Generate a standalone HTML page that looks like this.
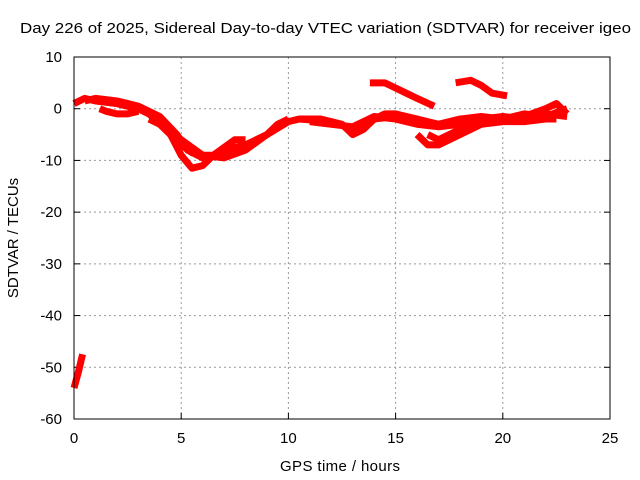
<!DOCTYPE html>
<html><head><meta charset="utf-8"><style>
body{margin:0;background:#fff}
svg{display:block;font-family:"Liberation Sans",sans-serif;font-size:15px}
</style></head><body>
<svg id="c" width="640" height="480">
<text x="20" y="33" textLength="611" lengthAdjust="spacingAndGlyphs">Day 226 of 2025, Sidereal Day-to-day VTEC variation (SDTVAR) for receiver igeo</text>
<text x="340" y="471" text-anchor="middle" textLength="120">GPS time / hours</text>
<text transform="translate(18,238) rotate(-90)" text-anchor="middle">SDTVAR / TECUs</text>
<g id="grid"></g><g id="ticks"></g><g id="data"></g>
<rect x="74" y="57" width="536" height="362" fill="none" stroke="#000"/>
</svg>
<script>
const xTicks=[0,5,10,15,20,25];
const yTicks=[10,0,-10,-20,-30,-40,-50,-60];
const sA=[[0,1],[0.5,2],[1,1.5],[2,1],[3,0],[4,-2],[4.5,-5],[5,-9],[5.5,-11.5],[6,-11],[6.5,-9],[7,-7.5],[7.5,-6],[8,-6]];
const sB=[[1,1.5],[2,1],[3,0],[3.5,-1],[4,-3],[4.5,-5],[5,-7],[5.5,-8.5],[6,-9],[6.5,-9],[7,-8],[8,-7],[9,-5],[9.5,-3],[10,-2]];
const sC=[[1.2,0],[1.5,-0.5],[2,-1],[2.5,-1],[3,-0.5]];
const sD=[[3.5,-2],[4,-3],[5,-6],[6,-9],[7,-9.5],[8,-8],[9,-5],[10,-2.5],[10.5,-2],[12,-2.5],[13,-4],[13.5,-3],[14,-2],[15,-1.5],[16,-2.5],[17,-3],[18,-2.5],[19,-2],[20,-1.5],[21,-2],[22,-1],[23,-1.5]];
const sE=[[10.5,-2],[11.5,-2],[12.5,-3],[13,-5],[13.5,-4],[14,-2],[14.5,-1],[15,-1],[16,-2],[17,-3],[18,-2],[19,-1.5],[20,-2],[21,-1.5],[22,0],[22.5,1],[23,-1]];
const sF=[[16,-5],[16.5,-7],[17,-7],[18,-5],[19,-3],[20,-2.5],[21,-2.5],[22,-2],[22.5,-2]];
const sG=[[16.5,-5],[17,-6],[18,-4],[19,-3]];
const sH=[[13.8,5],[14.5,5],[15,4],[15.5,3],[16,2],[16.8,0.5]];
const sI=[[17.8,5],[18.5,5.5],[19,4.5],[19.5,3],[20.2,2.5]];
const sJ=[[0,-54],[0.2,-51],[0.4,-47.5]];
const sK=[[0.5,1.5],[1,2],[2,1.5],[3,0.5],[4,-1.5],[4.8,-5],[5.3,-8],[6,-9.5],[7,-9],[7.5,-8]];
const sL=[[11,-2.5],[12,-3],[13,-3.5],[14,-1.5],[15,-2],[16,-3],[17,-3.5],[18,-3],[19,-2.5],[20,-2],[21,-1],[22,-1.5],[23,0]];
const series=[sA,sB,sC,sD,sE,sF,sG,sH,sI,sJ,sK,sL];
const X=v=>74+v*536/25, Y=v=>57+(10-v)*362/70;
const NS='http://www.w3.org/2000/svg';
const grid=document.getElementById('grid'),ticks=document.getElementById('ticks'),data=document.getElementById('data');
function mk(t,a,p){const e=document.createElementNS(NS,t);for(const k in a)e.setAttribute(k,a[k]);p.appendChild(e);return e;}
xTicks.forEach(t=>{
 if(t>0&&t<25){const g=mk('line',{x1:X(t),x2:X(t),y1:57,y2:419,stroke:'#999','stroke-dasharray':'2,3'},grid);
 
 }
 mk('line',{x1:X(t),x2:X(t),y1:419,y2:413,stroke:'#000'},ticks);
 const tx=mk('text',{x:X(t),y:443,'text-anchor':'middle'},ticks);tx.textContent=t;
 
 
});
yTicks.forEach(t=>{
 if(t<10&&t>-60){const g=mk('line',{x1:74,x2:610,y1:Y(t),y2:Y(t),stroke:'#999','stroke-dasharray':'2,3'},grid);
 
 }
 mk('line',{x1:74,x2:80,y1:Y(t),y2:Y(t),stroke:'#000'},ticks);
 mk('line',{x1:604,x2:610,y1:Y(t),y2:Y(t),stroke:'#000'},ticks);
 const tx=mk('text',{x:62,y:Y(t)+5,'text-anchor':'end'},ticks);tx.textContent=t;
 
 
});
series.forEach(s=>{
 const p=mk('polyline',{points:s.map(d=>X(d[0])+','+Y(d[1])).join(' '),fill:'none',stroke:'#f00','stroke-width':7,'stroke-linejoin':'round'},data);
 
 
});
</script>
</body></html>
